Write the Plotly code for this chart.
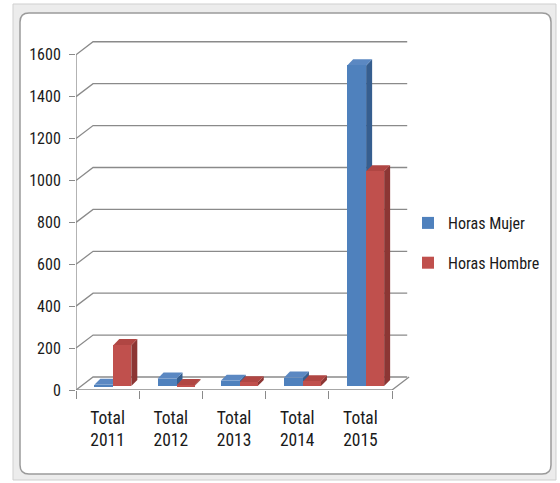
import plotly.graph_objects as go

# data
years = ["2011", "2012", "2013", "2014", "2015"]
tick_labels = ["Total<br>" + y for y in years]
horas_mujer = [6, 35, 25, 40, 1530]
horas_hombre = [195, 4, 18, 22, 1025]
y_ticks = [0, 200, 400, 600, 800, 1000, 1200, 1400, 1600]

# pixel frame of the plot area (560x483 page)
L, R, T, B = 76, 411, 38, 390
X_MIN, X_MAX = -0.5, 4.8
Y_MAX = 1680

def pxx(p):
    return (p - L) / (R - L)

def pxy(p):
    return (B - p) / (B - T)

# fake 3D depth, in data units
BACK_DX, BACK_DY = 0.27, 62      # back wall offset
SIDE_DX, SIDE_DY = 0.095, 29     # bar side / top face depth
BASE = 19                        # bars sit a little behind the front edge
FLOOR_END = 4.5
GRID = "#8a8a8a"

BLUE = dict(front="#4F81BD", side="#365E8F", top="#5B88C2")
RED = dict(front="#C0504D", side="#8C3634", top="#B04643")
series = [
    ("Horas Mujer", horas_mujer, BLUE, -0.21, 0.30),
    ("Horas Hombre", horas_hombre, RED, 0.09, 0.285),
]

fig = go.Figure()
for name, vals, col, off, w in series:
    fig.add_trace(go.Bar(
        x=list(range(len(years))), y=vals, base=BASE, name=name,
        offset=off, width=w, marker=dict(color=col["front"], line=dict(width=0)),
    ))

shapes = []

# chart frame (selection border + rounded chart area)
shapes.append(dict(type="rect", xref="paper", yref="paper",
                   x0=pxx(13), x1=pxx(556), y0=pxy(4), y1=pxy(480),
                   fillcolor="#ececec", line=dict(color="#cfcfcf", width=1), layer="below"))

def rounded(x0, y0, x1, y1, r):
    return (f"M {pxx(x0 + r)},{pxy(y0)} L {pxx(x1 - r)},{pxy(y0)} Q {pxx(x1)},{pxy(y0)} {pxx(x1)},{pxy(y0 + r)} "
            f"L {pxx(x1)},{pxy(y1 - r)} Q {pxx(x1)},{pxy(y1)} {pxx(x1 - r)},{pxy(y1)} "
            f"L {pxx(x0 + r)},{pxy(y1)} Q {pxx(x0)},{pxy(y1)} {pxx(x0)},{pxy(y1 - r)} "
            f"L {pxx(x0)},{pxy(y0 + r)} Q {pxx(x0)},{pxy(y0)} {pxx(x0 + r)},{pxy(y0)} Z")

shapes.append(dict(type="path", xref="paper", yref="paper", path=rounded(20, 13, 551, 474, 9),
                   fillcolor="white", line=dict(color="#9a9a9a", width=1.5), layer="below"))

# back wall gridlines with their diagonal to the front axis
for v in y_ticks:
    shapes.append(dict(type="path", xref="x", yref="y", layer="below",
                       path=f"M {X_MIN},{v} L {X_MIN + BACK_DX},{v + BACK_DY} L {FLOOR_END + BACK_DX - 0.03},{v + BACK_DY}",
                       line=dict(color=GRID, width=1.3)))

# floor front edge, right edge and front vertical axis
shapes.append(dict(type="path", xref="x", yref="y", layer="below",
                   path=f"M {X_MIN},0 L {FLOOR_END},0 L {FLOOR_END + BACK_DX},{BACK_DY}",
                   line=dict(color=GRID, width=1.3)))
shapes.append(dict(type="line", xref="x", yref="y", layer="below",
                   x0=X_MIN, x1=X_MIN, y0=0, y1=y_ticks[-1], line=dict(color=GRID, width=1.3)))

# side and top faces of each bar
for name, vals, col, off, w in series:
    for i, v in enumerate(vals):
        x0 = i + off
        x1 = x0 + w
        b = BASE
        t = BASE + v
        shapes.append(dict(type="path", xref="x", yref="y", layer="between",
                           path=f"M {x1},{b} L {x1 + SIDE_DX},{b + SIDE_DY} L {x1 + SIDE_DX},{t + SIDE_DY} L {x1},{t} Z",
                           fillcolor=col["side"], line=dict(width=0)))
        shapes.append(dict(type="path", xref="x", yref="y", layer="between",
                           path=f"M {x0},{t} L {x0 + SIDE_DX},{t + SIDE_DY} L {x1 + SIDE_DX},{t + SIDE_DY} L {x1},{t} Z",
                           fillcolor=col["top"], line=dict(width=0)))

FONT = "Liberation Sans Narrow, Roboto Condensed, DejaVu Sans Condensed, sans-serif"

fig.update_layout(
    width=560, height=483,
    margin=dict(l=L, r=560 - R, t=T, b=483 - B),
    paper_bgcolor="white", plot_bgcolor="rgba(0,0,0,0)",
    barmode="overlay", bargap=0,
    shapes=shapes,
    font=dict(family=FONT, size=16, color="#1a1a1a"),
    showlegend=True,
    legend=dict(x=pxx(408), y=pxy(206), xanchor="left", yanchor="top",
                bgcolor="rgba(0,0,0,0)", font=dict(size=16),
                traceorder="grouped", tracegroupgap=16),
)
fig.data[0].legendgroup = "m"
fig.data[1].legendgroup = "h"

fig.update_xaxes(range=[X_MIN, X_MAX], tickvals=list(range(len(years))), ticktext=tick_labels,
                 ticks="", showgrid=False, zeroline=False, showline=False,
                 tickfont=dict(size=17.5),
                 minor=dict(tickvals=[k - 0.5 for k in range(len(years) + 1)], ticks="outside",
                            ticklen=8, tickcolor=GRID, tickwidth=1.3, showgrid=False),
                 ticklabelstandoff=15)
fig.update_yaxes(range=[0, Y_MAX], tickvals=y_ticks, ticks="outside", ticklen=6,
                 tickcolor=GRID, tickwidth=1.3, showgrid=False, zeroline=False,
                 showline=False, ticklabelstandoff=5)

# drop the default 8px page margin so the figure sits at the window's corner
fig.write_html("out.html", config={"displayModeBar": False},
               post_script="document.body.style.margin='0';")
